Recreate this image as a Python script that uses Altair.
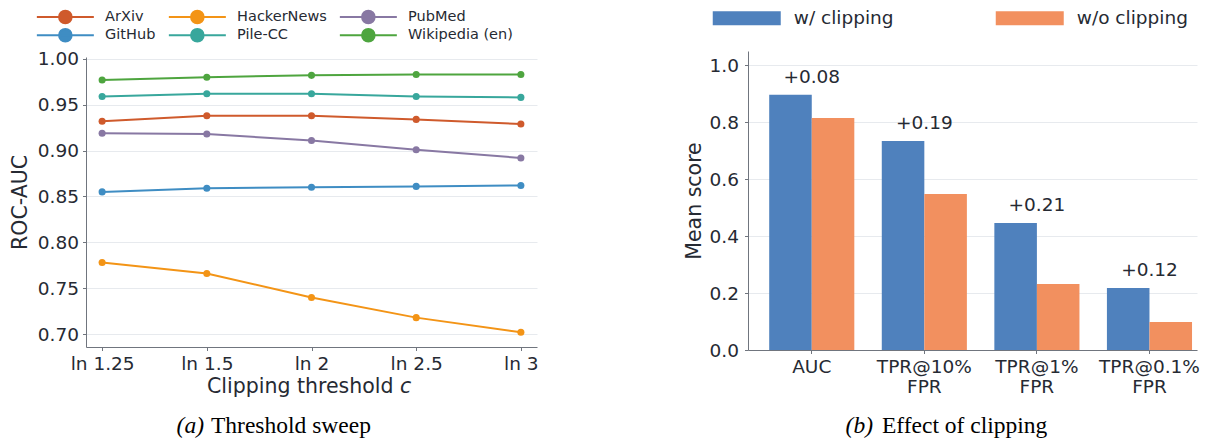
import altair as alt
import pandas as pd

# ---------------- data ----------------
thresholds = ["ln 1.25", "ln 1.5", "ln 2", "ln 2.5", "ln 3"]
series_names = ["ArXiv", "GitHub", "HackerNews", "Pile-CC", "PubMed", "Wikipedia (en)"]
series_colors = ["#cf5a2c", "#3f8dc3", "#f39416", "#38a79c", "#8878a3", "#4ea53f"]
arxiv = [0.932, 0.938, 0.938, 0.934, 0.929]
github = [0.855, 0.859, 0.860, 0.861, 0.862]
hackernews = [0.778, 0.766, 0.740, 0.718, 0.702]
pilecc = [0.959, 0.962, 0.962, 0.959, 0.958]
pubmed = [0.919, 0.918, 0.911, 0.901, 0.892]
wikipedia = [0.977, 0.980, 0.982, 0.983, 0.983]
series_values = [arxiv, github, hackernews, pilecc, pubmed, wikipedia]
roc_ticks = [0.70, 0.75, 0.80, 0.85, 0.90, 0.95, 1.00]

metrics = ["AUC", "TPR@10%\nFPR", "TPR@1%\nFPR", "TPR@0.1%\nFPR"]
bar_series = ["w/ clipping", "w/o clipping"]
bar_colors = ["#4f81bd", "#f2905f"]
with_clip = [0.896, 0.734, 0.446, 0.218]
without_clip = [0.815, 0.548, 0.232, 0.098]
gain_labels = ["+0.08", "+0.19", "+0.21", "+0.12"]
score_ticks = [0.0, 0.2, 0.4, 0.6, 0.8, 1.0]

# ---------------- style ----------------
FONT = "DejaVu Sans"
SERIF = "Liberation Serif"
TEXT = "#262a33"
AXIS = "#70757e"
GRID = "#e7eaee"

line_rows = []
for name, vals in zip(series_names, series_values):
    for t, v in zip(thresholds, vals):
        line_rows.append({"threshold": t, "series": name, "auc": v})
line_df = pd.DataFrame(line_rows)

bar_rows = []
for m, a, b in zip(metrics, with_clip, without_clip):
    bar_rows.append({"metric": m, "series": bar_series[0], "value": a})
    bar_rows.append({"metric": m, "series": bar_series[1], "value": b})
bar_df = pd.DataFrame(bar_rows)
gain_df = pd.DataFrame({"metric": metrics, "value": with_clip, "label": gain_labels})

# ---------------- left panel ----------------
LW, LH = 451, 296
# unit = 6 px (symbolSize 144): line +-28.5 px, dot radius ~6.3 px
line_symbol = "M-4.75,0L4.75,0M-1.05,0A1.05,1.05 0 1,0 1.05,0A1.05,1.05 0 1,0 -1.05,0"

left_legend = alt.Legend(
    title=None, orient="none", legendX=-27.9, legendY=-41.5, columns=3,
    symbolType=line_symbol, symbolSize=144, symbolStrokeWidth=2,
    labelFont=FONT, labelFontSize=14.5, labelColor=TEXT, labelOffset=32.5,
    columnPadding=8, rowPadding=-3.5, padding=0,
)
color_left = alt.Color("series:N", scale=alt.Scale(domain=series_names, range=series_colors),
                       legend=left_legend)
x_left = alt.X("threshold:O", sort=thresholds,
               scale=alt.Scale(type="point", padding=0.154),
               axis=alt.Axis(title=None, labelAngle=0, labelFontSize=18.5, tickSize=3.5,
                             labelPadding=4, grid=False))
y_left = alt.Y("auc:Q",
               scale=alt.Scale(domain=[0.686, 1.002], range=[LH, 6], zero=False, nice=False),
               axis=alt.Axis(title="ROC-AUC", values=roc_ticks, format=".2f", labelFontSize=18.5,
                             titleFontSize=20.5, tickSize=3.5, labelPadding=4, titlePadding=7,
                             grid=True))

base_left = alt.Chart(line_df).encode(x=x_left, y=y_left, color=color_left)
lines = base_left.mark_line(strokeWidth=2)
points = base_left.mark_point(filled=True, size=50, opacity=1)

xtitle = alt.Chart(pd.DataFrame({"t": ["Clipping threshold"]})).mark_text(
    font=FONT, fontSize=20.5, color=TEXT, align="left", baseline="alphabetic"
).encode(text="t:N", x=alt.value(121), y=alt.value(342))
xtitle_c = alt.Chart(pd.DataFrame({"t": ["c"]})).mark_text(
    font=FONT, fontSize=20.5, color=TEXT, align="left", baseline="alphabetic", fontStyle="italic"
).encode(text="t:N", x=alt.value(314), y=alt.value(342))
cap_a1 = alt.Chart(pd.DataFrame({"t": ["(a)"]})).mark_text(
    font=SERIF, fontSize=23.5, color="#000000", align="right", baseline="alphabetic", fontStyle="italic"
).encode(text="t:N", x=alt.value(118), y=alt.value(382))
cap_a2 = alt.Chart(pd.DataFrame({"t": ["Threshold sweep"]})).mark_text(
    font=SERIF, fontSize=23.5, color="#000000", align="left", baseline="alphabetic"
).encode(text="t:N", x=alt.value(125), y=alt.value(382))

left = alt.layer(lines, points, xtitle, xtitle_c, cap_a1, cap_a2).properties(width=LW, height=LH)

# ---------------- right panel ----------------
RW, RH = 449, 299
# unit = 7 px (symbolSize 196): rect 68 x 14 px
rect_symbol = "M-4.857,-1L4.857,-1L4.857,1L-4.857,1Z"
right_legend = alt.Legend(
    title=None, orient="none", legendX=-10.5, legendY=-42.25, columns=2,
    symbolType=rect_symbol, symbolSize=196, symbolStrokeWidth=0,
    labelFont=FONT, labelFontSize=18.5, labelColor=TEXT, labelOffset=37.8,
    columnPadding=101, padding=0,
)
x_right = alt.X("metric:N", sort=metrics,
                scale=alt.Scale(paddingInner=0.244, paddingOuter=0.1163, align=0.81),
                axis=alt.Axis(title=None, labelAngle=0, labelFontSize=18.5, tickSize=3.5,
                              labelPadding=4, labelLineHeight=20,
                              labelExpr="split(datum.label, '\\n')"))
y_right = alt.Y("value:Q", scale=alt.Scale(domain=[0, 1.05], nice=False),
                axis=alt.Axis(title="Mean score", values=score_ticks, format=".1f",
                              labelFontSize=18.5, titleFontSize=20.5, tickSize=3.5,
                              labelPadding=6, titlePadding=5, grid=True))

bars = alt.Chart(bar_df).mark_bar().encode(
    x=x_right, y=y_right,
    xOffset=alt.XOffset("series:N", sort=bar_series, scale=alt.Scale(paddingInner=0, paddingOuter=0)),
    color=alt.Color("series:N", scale=alt.Scale(domain=bar_series, range=bar_colors), legend=right_legend),
)
gains = alt.Chart(gain_df).mark_text(
    font=FONT, fontSize=18.5, color=TEXT, baseline="alphabetic", dy=-12
).encode(x=alt.X("metric:N", sort=metrics), y="value:Q", text="label:N")

cap_b1 = alt.Chart(pd.DataFrame({"t": ["(b)"]})).mark_text(
    font=SERIF, fontSize=23.5, color="#000000", align="right", baseline="alphabetic", fontStyle="italic"
).encode(text="t:N", x=alt.value(125), y=alt.value(382))
cap_b2 = alt.Chart(pd.DataFrame({"t": ["Effect of clipping"]})).mark_text(
    font=SERIF, fontSize=23.5, color="#000000", align="left", baseline="alphabetic"
).encode(text="t:N", x=alt.value(134), y=alt.value(382))

right = alt.layer(bars, gains, cap_b1, cap_b2).properties(width=RW, height=RH)

chart = alt.hconcat(left, right, spacing=211, bounds="flush").resolve_scale(
    color="independent"
).properties(
    padding={"left": 2, "top": 0, "right": 0, "bottom": 0}
).configure_view(stroke=None).configure_axis(
    labelFont=FONT, titleFont=FONT, labelColor=TEXT, titleColor=TEXT,
    titleFontWeight="normal", domainColor=AXIS, tickColor=AXIS, gridColor=GRID,
    domainWidth=1, tickWidth=1, gridWidth=1,
)

chart.save("out.html", embed_options={"renderer": "svg", "actions": False})
